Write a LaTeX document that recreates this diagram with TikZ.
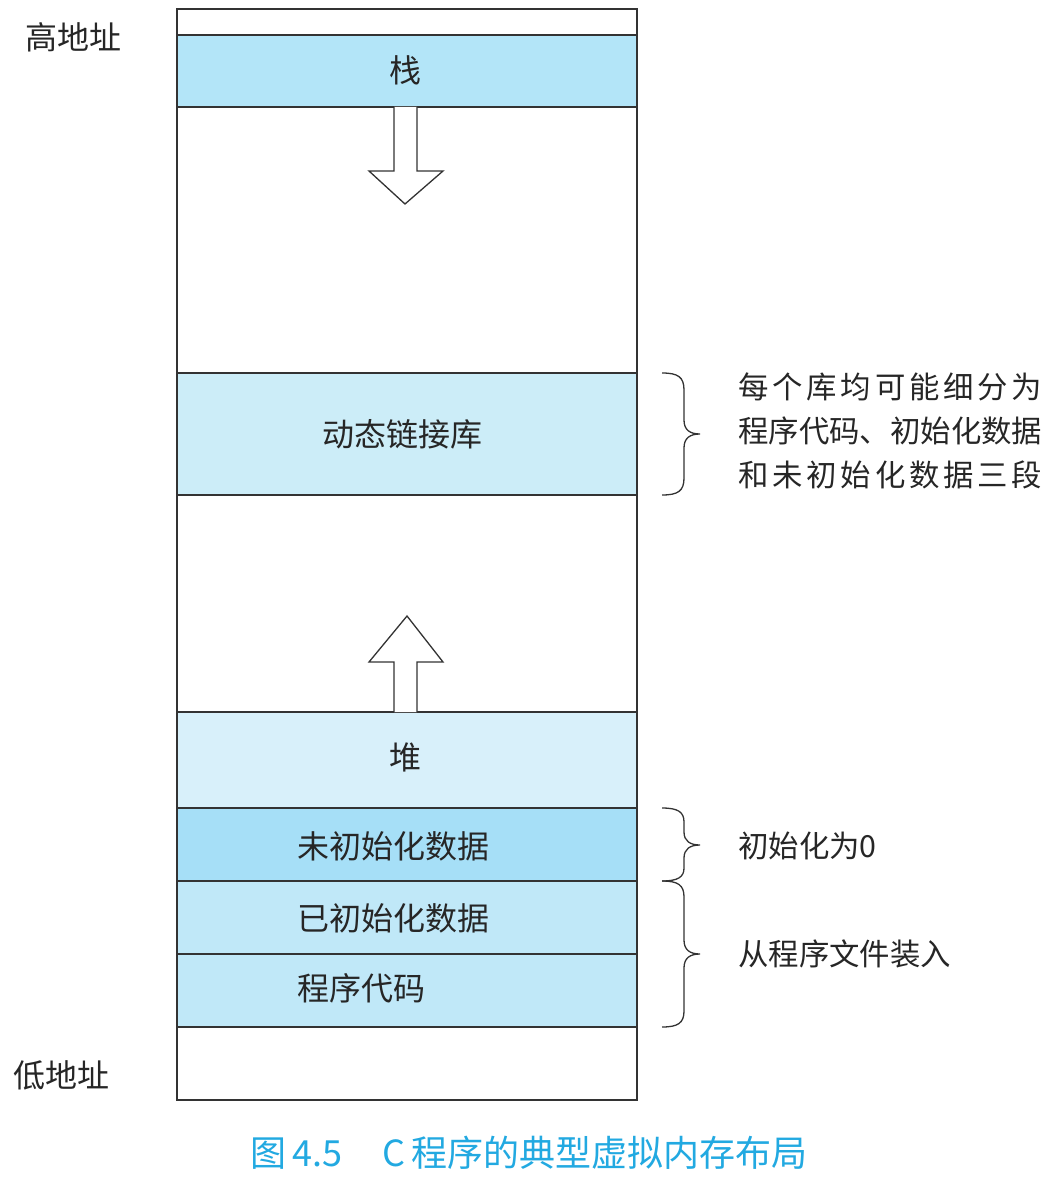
\documentclass[tikz,border=0pt]{standalone}
\usepackage{fontspec}
\setmainfont{Liberation Serif}
\newfontfamily\cjk{Noto Sans CJK SC}
\definecolor{linegray}{HTML}{333333}
\definecolor{stackfill}{HTML}{B3E5F8}
\definecolor{libfill}{HTML}{CCEDF8}
\definecolor{heapfill}{HTML}{D8F0FA}
\definecolor{bssfill}{HTML}{A6DFF7}
\definecolor{datafill}{HTML}{C0E8F8}
\definecolor{captionblue}{HTML}{22A9E1}
\begin{document}
\begin{tikzpicture}[x=1pt,y=-1pt,
  seg/.style={draw=linegray,line width=1.3pt},
  lbl/.style={font=\cjk\fontsize{32}{44}\selectfont,text=black!85,inner sep=0pt},
  note/.style={lbl,font=\cjk\fontsize{30.4}{44}\selectfont,anchor=west,align=left},
  bigarrow/.style={draw=linegray,line width=1.3pt,fill=white,line join=miter},
  bracket/.style={draw=linegray,line width=1.3pt}]
\useasboundingbox (0,0) rectangle (1052,1177);

% memory segments
\path[seg,fill=stackfill] (177,35) rectangle (637,107);
\path[seg,fill=libfill]   (177,373) rectangle (637,495);
\path[seg,fill=heapfill]  (177,712) rectangle (637,808);
\path[seg,fill=bssfill]   (177,808) rectangle (637,881);
\path[seg,fill=datafill]  (177,881) rectangle (637,954);
\path[seg,fill=datafill]  (177,954) rectangle (637,1027);
\draw[seg] (177,9) rectangle (637,1100);

% segment labels
\node[lbl] (stack) at (405,70) {栈};
\node[lbl] (lib) at (402,434) {动态链接库};
\node[lbl] (heap) at (405,757) {堆};
\node[lbl,anchor=west] (bss) at (297,846) {未初始化数据};
\node[lbl,anchor=west] (data) at (297,918) {已初始化数据};
\node[lbl,anchor=west] (text) at (297,988) {程序代码};

% growth directions
\draw[bigarrow] (394,107) -- (394,171) -- (369,171) -- (405,204) -- (443,171) -- (417,171) -- (417,107);
\draw[bigarrow] (394,712) -- (394,662) -- (369,662) -- (407,616) -- (443,662) -- (417,662) -- (417,712);

% address ends
\node[lbl,anchor=west] (high) at (25,37) {高地址};
\node[lbl,anchor=west] (low) at (13,1075) {低地址};

% braces and notes
\draw[bracket] (662,373) .. controls (678,373) and (684,377) .. (684,390) -- (684,420)
  .. controls (684,430) and (690,434) .. (700,434)
  .. controls (690,434) and (684,438) .. (684,448) -- (684,478)
  .. controls (684,491) and (678,495) .. (662,495);
\draw[bracket] (662,808) .. controls (678,808) and (684,812) .. (684,822) -- (684,832)
  .. controls (684,841) and (690,845) .. (700,845)
  .. controls (690,845) and (684,849) .. (684,858) -- (684,868)
  .. controls (684,877) and (678,881) .. (662,881);
\draw[bracket] (662,881) .. controls (678,881) and (684,885) .. (684,897) -- (684,940)
  .. controls (684,950) and (690,954) .. (700,954)
  .. controls (690,954) and (684,958) .. (684,968) -- (684,1011)
  .. controls (684,1023) and (678,1027) .. (662,1027);
\node[note] (libnote) at (738,431) {\makebox[304pt][s]{每\hfil 个\hfil 库\hfil 均\hfil 可\hfil 能\hfil 细\hfil 分\hfil 为}\\
  \makebox[304pt][s]{程\hfil 序\hfil 代\hfil 码\hfil 、\hfil 初\hfil 始\hfil 化\hfil 数\hfil 据}\\
  \makebox[304pt][s]{和\hfil 未\hfil 初\hfil 始\hfil 化\hfil 数\hfil 据\hfil 三\hfil 段}};
\node[note] (bssnote) at (738,846) {初始化为0};
\node[note] (loadnote) at (738,954) {从程序文件装入};

% caption
\node[lbl,font=\cjk\fontsize{36}{40}\selectfont,anchor=west,text=captionblue] (caption) at (250,1153)
  {图\hspace{6pt}4.5\hspace{40pt}C\hspace{6pt}程序的典型虚拟内存布局};
\end{tikzpicture}
\end{document}
